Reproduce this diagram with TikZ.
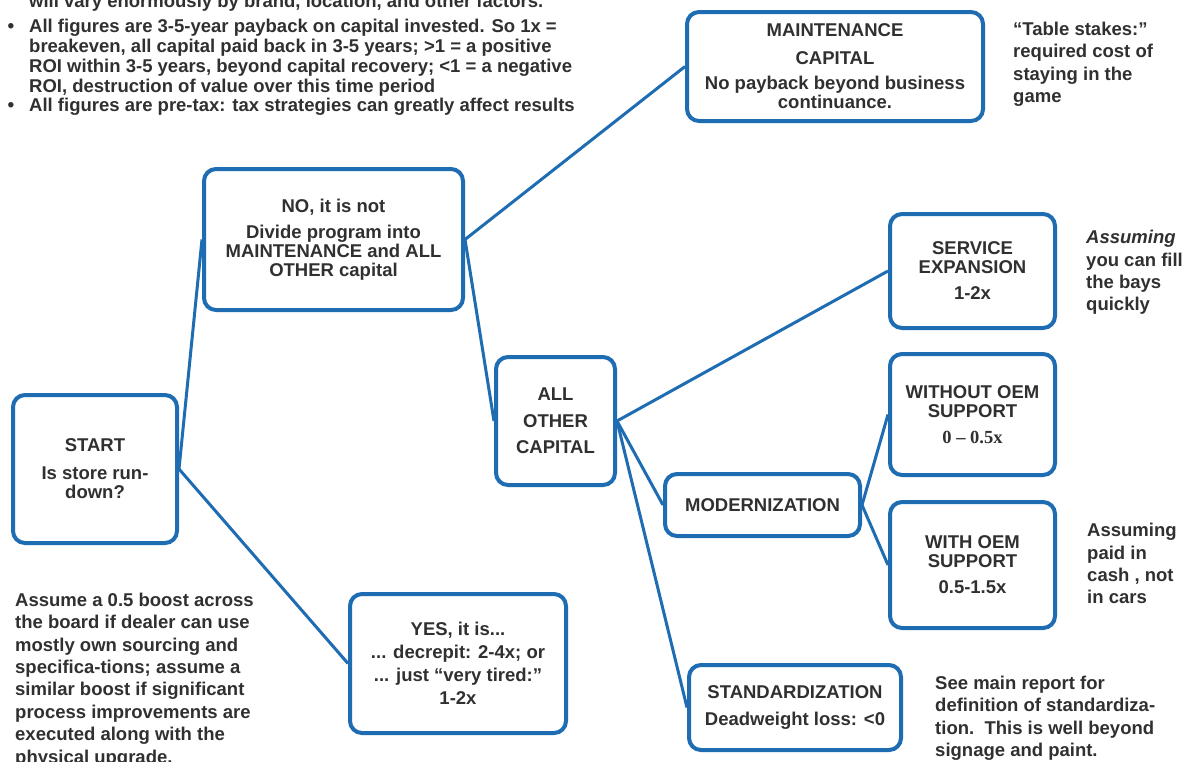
\documentclass[tikz,border=0pt]{standalone}
\usepackage{fontspec}
\setmainfont{Liberation Sans}
\newfontfamily\serifbf{Liberation Serif}
\definecolor{cblue}{RGB}{30,108,178}
\definecolor{ctext}{RGB}{48,48,48}
\newcommand{\bul}{\llap{\fontsize{19}{19}\selectfont\textbullet\hspace{15pt}}}
\begin{document}
\begin{tikzpicture}[x=1pt,y=-1pt,
  box/.style={draw=cblue, line width=4pt, rounded corners=12pt, fill=white,
    align=center, inner sep=0pt, text=ctext,
    font=\fontsize{18.5}{19}\selectfont\bfseries},
  link/.style={draw=cblue, line width=3pt},
  note/.style={anchor=north west, align=left, inner sep=0pt, text=ctext,
    font=\fontsize{18.5}{22.4}\selectfont\bfseries},
  topnote/.style={note, font=\fontsize{18.5}{19.7}\selectfont\bfseries}]
\fill[white] (0,0) rectangle (1190,761);
\useasboundingbox (0,0) rectangle (1190,761);

% boxes
\node[box, minimum width=296pt, minimum height=109pt] (maint) at (835,66.5)
  {MAINTENANCE\\[9pt]CAPITAL\\[6pt]No payback beyond business\\continuance.};
\node[box, minimum width=259pt, minimum height=141pt] (no) at (333.5,239.5)
  {NO, it is not\\[7pt]Divide program into\\MAINTENANCE and ALL\\OTHER capital};
\node[box, minimum width=164pt, minimum height=148pt] (start) at (95,469)
  {START\\[9pt]Is store run-\\down?};
\node[box, minimum width=119pt, minimum height=128pt] (all) at (555.5,421)
  {ALL\\[7.5pt]OTHER\\[7.5pt]CAPITAL};
\node[box, minimum width=165pt, minimum height=114pt] (service) at (972.5,271)
  {SERVICE\\EXPANSION\\[7pt]1-2x};
\node[box, minimum width=165pt, minimum height=121pt] (without) at (972.5,414.5)
  {WITHOUT OEM\\SUPPORT\\[7pt]{\serifbf 0 – 0.5x}};
\node[box, minimum width=195pt, minimum height=62pt] (mod) at (762.5,505)
  {MODERNIZATION};
\node[box, minimum width=165pt, minimum height=126pt] (with) at (972.5,565)
  {WITH OEM\\SUPPORT\\[7pt]0.5-1.5x};
\node[box, minimum width=212pt, minimum height=85pt] (std) at (795,707.5)
  {STANDARDIZATION\\[8pt]Deadweight loss: <0};
\node[box, minimum width=216pt, minimum height=139pt] (yes) at (458,663.5)
  {YES, it is...\\[4.5pt]... decrepit: 2-4x; or\\[4pt]... just “very tired:”\\[4pt]1-2x};

% connectors
\draw[link] (start.east) -- (no.west);
\draw[link] (start.east) -- (yes.west);
\draw[link] (no.east) -- (maint.west);
\draw[link] (no.east) -- (all.west);
\draw[link] (all.east) -- (service.west);
\draw[link] (all.east) -- (mod.west);
\draw[link] (all.east) -- (std.west);
\draw[link] (mod.east) -- (without.west);
\draw[link] (mod.east) -- (with.west);

% notes
\node[topnote] (topn) at (29,-6.4)
  {will vary enormously by brand, location, and other factors.\\[6pt]
   \bul All figures are 3-5-year payback on capital invested. So 1x =\\
   breakeven, all capital paid back in 3-5 years; >1 = a positive\\
   ROI within 3-5 years, beyond capital recovery; <1 = a negative\\
   ROI, destruction of value over this time period\\
   \bul All figures are pre-tax: tax strategies can greatly affect results};
\node[note] (stakes) at (1013,21.6)
  {“Table stakes:”\\required cost of\\staying in the\\game};
\node[note] (fill) at (1086,230)
  {\itshape Assuming\\you can fill\\the bays\\quickly};
\node[note] (cash) at (1087,523)
  {Assuming\\paid in\\cash , not\\in cars};
\node[note] (report) at (935,675.6)
  {See main report for\\definition of standardiza-\\tion.\ \ This is well beyond\\signage and paint.};
\node[note] (boost) at (15,592.7)
  {Assume a 0.5 boost across\\the board if dealer can use\\mostly own sourcing and\\specifica-tions; assume a\\similar boost if significant\\process improvements are\\executed along with the\\physical upgrade.};
\end{tikzpicture}
\end{document}
